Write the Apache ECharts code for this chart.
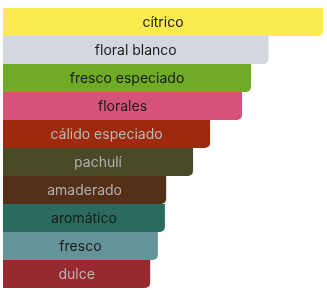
<!DOCTYPE html>
<html>
<head>
<meta charset="utf-8">
<script src="https://cdn.jsdelivr.net/npm/echarts@6/dist/echarts.min.js"></script>
<style>
  html, body { margin: 0; padding: 0; background: #fff; }
  #chart { width: 327px; height: 290px; }
</style>
</head>
<body>
<div id="chart"></div>
<script>
  // acordes principales, de arriba a abajo
  var accords = ['cítrico', 'floral blanco', 'fresco especiado', 'florales', 'cálido especiado',
                 'pachulí', 'amaderado', 'aromático', 'fresco', 'dulce'];
  var values = [100, 83, 77.5, 74.7, 64.7, 59.4, 51, 50.6, 48.4, 46];
  var barColors = ['#fbeb50', '#d3d8e0', '#6fab24', '#d55279', '#9e2a0e',
                   '#4b4a28', '#532f17', '#2a6b5e', '#64949a', '#972a30'];
  var textColors = ['#1a1a1a', '#1a1a1a', '#1a1a1a', '#1a1a1a', '#b8b8b8',
                    '#b0b0b0', '#b0b0b0', '#1a1a1a', '#1a1a1a', '#b8b8b8'];

  var chart = echarts.init(document.getElementById('chart'));

  var option = {
    animation: false,
    grid: { left: 3, right: 4, top: 8, bottom: 2 },
    xAxis: { type: 'value', min: 0, max: 100, show: false },
    yAxis: {
      type: 'category',
      inverse: true,
      data: accords,
      show: false
    },
    series: [{
      type: 'bar',
      barCategoryGap: 0,
      data: values.map(function (v, i) {
        return {
          value: v,
          itemStyle: { color: barColors[i] },
          label: { color: textColors[i] }
        };
      }),
      itemStyle: { borderRadius: [0, 0, 5, 0] },
      label: {
        show: true,
        position: 'inside',
        fontFamily: 'Inter',
        fontSize: 14,
        offset: [0, 1],
        formatter: function (p) { return p.name; }
      }
    }]
  };

  chart.setOption(option);
</script>
</body>
</html>
